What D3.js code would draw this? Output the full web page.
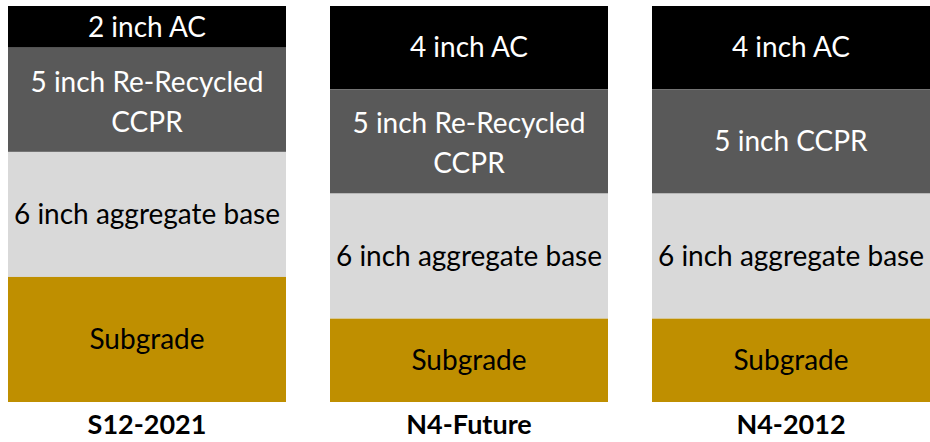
<!DOCTYPE html>
<html><head><meta charset="utf-8">
<script src="https://cdn.jsdelivr.net/npm/d3@7"></script>
<style>body{margin:0;background:#fff}svg{display:block}text{font-family:Lato,"Open Sans",sans-serif}</style>
</head><body><svg id="c" width="930" height="442"></svg>
<script>
const sections = ["S12-2021", "N4-Future", "N4-2012"];
const layerKeys = ["ac", "ccpr", "base", "subgrade"];
const acInches = [2, 4, 4];
const ccprInches = [5, 5, 5];
const baseInches = [6, 6, 6];
const subgradeUnits = [6, 4, 4];
const acLabels = ["2 inch AC", "4 inch AC", "4 inch AC"];
const ccprLabels = [["5 inch Re-Recycled", "CCPR"], ["5 inch Re-Recycled", "CCPR"], ["5 inch CCPR"]];
const baseLabels = ["6 inch aggregate base", "6 inch aggregate base", "6 inch aggregate base"];
const subgradeLabels = ["Subgrade", "Subgrade", "Subgrade"];
const layerColors = ["#000000", "#595959", "#d9d9d9", "#bf8f00"];
const textColors = ["#ffffff", "#ffffff", "#000000", "#000000"];

const rows = sections.map((s, i) => ({
  section: s, ac: acInches[i], ccpr: ccprInches[i], base: baseInches[i], subgrade: subgradeUnits[i],
  labels: {ac: [acLabels[i]], ccpr: ccprLabels[i], base: [baseLabels[i]], subgrade: [subgradeLabels[i]]}
}));

const svg = d3.select("#c");
const x = d3.scaleBand().domain(sections).range([8, 930]).paddingInner(44 / 322).paddingOuter(0);
const total = d3.max(rows, r => r.ac + r.ccpr + r.base + r.subgrade);
const y = d3.scaleLinear().domain([0, total]).range([6, 402]);

const stack = d3.stack().keys(layerKeys).order(d3.stackOrderNone);
const series = stack(rows);

const fs = 28;
series.forEach((ser, li) => {
  const g = svg.append("g");
  g.selectAll("rect").data(ser).join("rect")
    .attr("x", d => x(d.data.section))
    .attr("y", d => y(d[0]))
    .attr("width", x.bandwidth())
    .attr("height", d => y(d[1]) - y(d[0]))
    .attr("fill", layerColors[li]);
  ser.forEach(d => {
    const lines = d.data.labels[ser.key];
    const cy = (y(d[0]) + y(d[1])) / 2 + (lines.length > 1 ? 2 : 0);
    const lh = 40;
    lines.forEach((t, k) => {
      g.append("text")
        .attr("x", x(d.data.section) + x.bandwidth() / 2)
        .attr("y", cy + (k - (lines.length - 1) / 2) * lh)
        .attr("dy", "0.35em")
        .attr("text-anchor", "middle")
        .attr("fill", textColors[li])
        .style("font-size", fs + "px")
        .text(t);
    });
  });
});

svg.append("g").selectAll("text").data(sections).join("text")
  .attr("x", d => x(d) + x.bandwidth() / 2)
  .attr("y", 425)
  .attr("dy", "0.35em")
  .attr("text-anchor", "middle")
  .attr("fill", "#000")
  .style("font-size", "27px")
  .style("font-weight", "bold")
  .text(d => d);
</script></body></html>
